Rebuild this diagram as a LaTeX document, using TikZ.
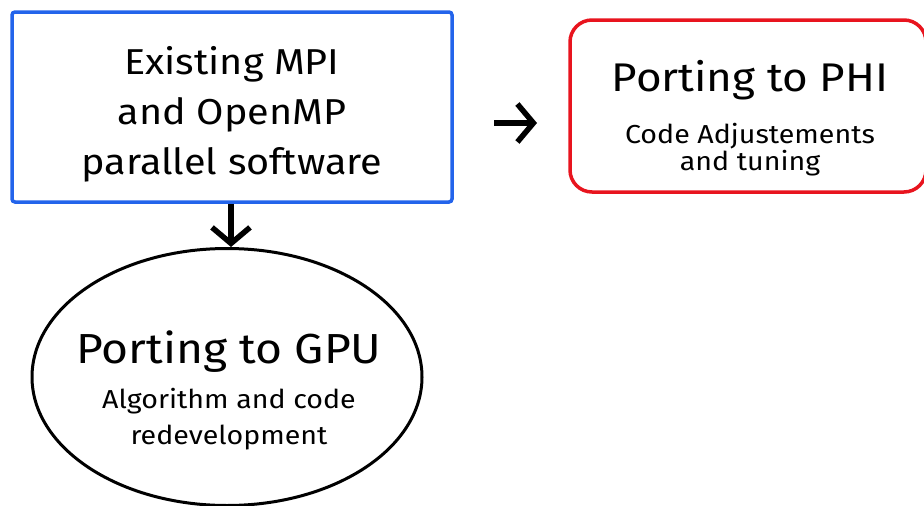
\documentclass[tikz,border=0pt]{standalone}
\usepackage{fontspec}
\setmainfont{Fira Sans}
\usetikzlibrary{arrows.meta,shapes.geometric}

\definecolor{boxblue}{RGB}{35,100,235}
\definecolor{boxred}{RGB}{232,20,30}
\newcommand{\wide}[1]{\scalebox{1.1}[1]{#1}}

\tikzset{
  stepbox/.style={draw, line width=3.5pt, inner sep=0pt},
  steptext/.style={align=center, inner sep=0pt},
  flow/.style={line width=5.5pt, -{Straight Barb[length=16pt, width=38pt]}},
}

\begin{document}
\begin{tikzpicture}[x=1pt, y=-1pt]
  \useasboundingbox (0,0) rectangle (924,506); % page
  % boxes
  \node[stepbox, boxblue, rounded corners=3pt, minimum width=440pt, minimum height=190pt] (src) at (232,107) {};
  \node[stepbox, boxred, rounded corners=22pt, minimum width=356pt, minimum height=172pt] (phi) at (748,106) {};
  \node[stepbox, ellipse, line width=3pt, minimum width=390pt, minimum height=257pt] (gpu) at (227,377) {};
  % texts
  \node[steptext, font=\fontsize{36}{50}\selectfont] (srctxt) at (232,114)
        {\wide{Existing MPI}\\\wide{and OpenMP}\\\wide{parallel software}};
  \node[steptext, font=\fontsize{26}{24}\selectfont] (phitxt) at (750,118)
        {{\fontsize{40}{48}\selectfont\wide{Porting to PHI}}\\[22pt]
         \wide{Code Adjustements}\\\wide{and tuning}};
  \node[steptext, font=\fontsize{26}{36}\selectfont] (gputxt) at (229,390)
        {{\fontsize{42}{48}\selectfont\wide{Porting to GPU}}\\[9pt]
         \wide{Algorithm and code}\\\wide{redevelopment}};
  % arrows
  \coordinate (go) at (494,123);
  \coordinate (gi) at (537,123);
  \draw[flow] (src.south -| 231,0) -- (231,0 |- gpu.north);
  \draw[flow] (go) -- (gi);
\end{tikzpicture}
\end{document}
